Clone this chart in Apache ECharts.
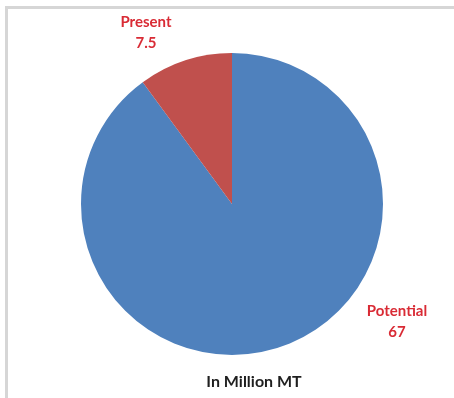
<!DOCTYPE html>
<html>
<head>
<meta charset="utf-8">
<script src="https://cdn.jsdelivr.net/npm/echarts@6/dist/echarts.min.js"></script>
<style>
  html, body { margin: 0; padding: 0; background: #fff; }
  #chart { width: 454px; height: 398px; }
</style>
</head>
<body>
<div id="chart"></div>
<script>
// Production figures, in million metric tonnes
const categories = ['Potential', 'Present'];
const values = [67, 7.5];
const sliceColors = ['#4f81bd', '#c0504d'];
const unitCaption = 'In Million MT';

// label anchor points (px) for each slice's caption
const labelSpots = [[397, 322], [146, 33]];

const chart = echarts.init(document.getElementById('chart'), null, { renderer: 'canvas' });

chart.setOption({
  animation: false,
  backgroundColor: '#ffffff',
  graphic: [
    { type: 'rect', shape: { x: 5, y: 6, width: 449, height: 3 }, style: { fill: '#d6d6d6' }, silent: true },
    { type: 'rect', shape: { x: 5, y: 6, width: 3, height: 392 }, style: { fill: '#d6d6d6' }, silent: true },
    {
      type: 'text', x: 254, y: 382,
      style: {
        text: unitCaption, fill: '#1f1f1f', align: 'center', verticalAlign: 'middle',
        font: 'bold 16px Lato, "Open Sans", sans-serif'
      },
      silent: true
    }
  ],
  series: [{
    type: 'pie',
    center: [232, 204],
    radius: [0, 151],
    startAngle: 90,
    clockwise: true,
    silent: true,
    data: categories.map((name, i) => ({
      name: name,
      value: values[i],
      itemStyle: { color: sliceColors[i] }
    })),
    label: {
      show: true,
      position: 'outside',
      formatter: '{b}\n{c}',
      color: '#d92b35',
      fontFamily: 'Lato, "Open Sans", sans-serif',
      fontWeight: 'bold',
      fontSize: 15,
      lineHeight: 21,
      align: 'center'
    },
    labelLine: { show: false },
    labelLayout: function (params) {
      const p = labelSpots[params.dataIndex];
      return { x: p[0], y: p[1], align: 'center', verticalAlign: 'middle' };
    }
  }]
});
</script>
</body>
</html>
